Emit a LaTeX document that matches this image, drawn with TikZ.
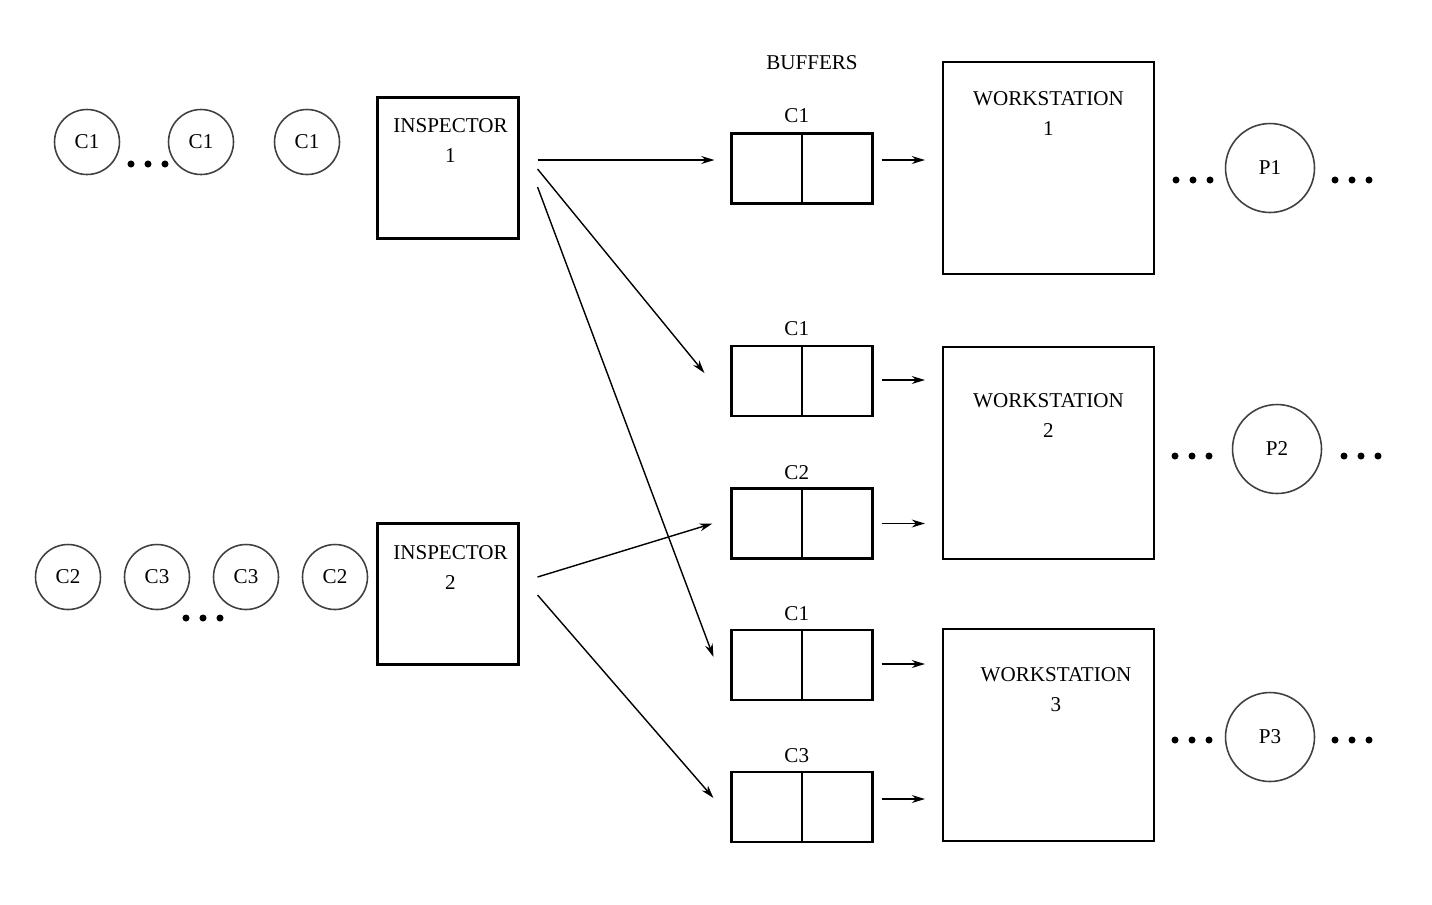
\documentclass[tikz,border=0pt]{standalone}
\usepackage{fontspec}
\setmainfont{Liberation Serif}
\usetikzlibrary{positioning, arrows.meta}

\begin{document}
\begin{tikzpicture}[
    x=0.02cm, y=-0.02cm,
    font=\fontsize{12}{17}\selectfont,
    box/.style={draw, line width=1.2pt, minimum width=2.82cm, minimum height=2.82cm},
    buffer/.style={draw, line width=1.2pt, minimum width=2.82cm, minimum height=1.4cm},
    station/.style={draw, line width=1.2pt, minimum width=4.22cm, minimum height=4.24cm},
    part/.style={circle, draw=black!75, line width=0.9pt, minimum size=1.3cm, inner sep=0pt},
    product/.style={part, minimum size=1.78cm},
    tag/.style={inner sep=0pt, align=center},
    flow/.style={->, >={Stealth[length=7.5pt, width=4.5pt]}, line width=0.8pt},
    feed/.style={flow, shorten <=0.16cm, shorten >=0.34cm}
]
    \useasboundingbox (0,0) rectangle (1432,904);

    % Components waiting
    \node[part] (c11) at (87,142) {C1};
    \node[part] (c12) at (201,142) {C1};
    \node[part] (c13) at (307,142) {C1};

    \node[part] (c21) at (68,577) {C2};
    \node[part] (c31) at (157,577) {C3};
    \node[part] (c32) at (246,577) {C3};
    \node[part] (c22) at (335,577) {C2};

    % Inspectors
    \node[box] (insp1) at (448,168) {};
    \node[tag, below=0.44cm of insp1.north, xshift=0.05cm] {INSPECTOR\\1};
    \node[box] (insp2) at (448,594) {};
    \node[tag, below=0.46cm of insp2.north, xshift=0.05cm] {INSPECTOR\\2};

    % Buffers
    \node at (812,63) {BUFFERS};
    \node[buffer] (b1) at (802,168.5) {};
    \node[buffer] (b2) at (802,381) {};
    \node[buffer] (b3) at (802,523.5) {};
    \node[buffer] (b4) at (802,665) {};
    \node[buffer] (b5) at (802,807) {};
    \node[above=2pt of b1, xshift=-3pt] {C1};
    \node[above=2pt of b2, xshift=-3pt] {C1};
    \node[above=1pt of b3, xshift=-3pt] {C2};
    \node[above=1pt of b4, xshift=-3pt] {C1};
    \node[above=1pt of b5, xshift=-3pt] {C3};
    \foreach \b in {b1,b2,b3,b4,b5}
        \draw[line width=1.2pt] (\b.north) -- (\b.south);

    % Workstations
    \node[station] (ws1) at (1048.5,168) {};
    \node[tag, below=0.6cm of ws1.north] {WORKSTATION\\1};
    \node[station] (ws2) at (1048.5,453) {};
    \node[tag, below=0.94cm of ws2.north] {WORKSTATION\\2};
    \node[station] (ws3) at (1048.5,735) {};
    \node[tag, below=0.78cm of ws3.north, xshift=0.15cm] {WORKSTATION\\3};

    % Products
    \node[product] (p1) at (1270,168) {P1};
    \node[product] (p2) at (1277,449) {P2};
    \node[product] (p3) at (1270,737) {P3};

    % Dots
    \foreach \x/\y in {148/164, 203/618, 1193/180, 1352/180,
                       1192/456, 1361/456, 1192/740, 1352/740}
        \foreach \d in {-17,0,17}
            \fill (\x+\d,\y) circle[radius=2pt];

    % From the inspectors
    \draw[flow] ([shift={(18,-8)}]insp1.east) -- ([shift={(-16,-8.5)}]b1.west);
    \draw[flow] ([shift={(18,1)}]insp1.east) -- ([shift={(-26,-8)}]b2.west);
    \draw[flow] ([shift={(18,19)}]insp1.east) -- ([shift={(-17,-8)}]b4.west);
    \draw[flow] ([shift={(18,-17)}]insp2.east) -- ([shift={(-18,0)}]b3.west);
    \draw[flow] ([shift={(18,1)}]insp2.east) -- ([shift={(-17,-9)}]b5.west);

    % Into the workstations
    \draw[feed] ([yshift=0.17cm]b1.east) -- ([yshift=0.17cm]b1.east -| ws1.west);
    \draw[feed] ([yshift=0.02cm]b2.east) -- ([yshift=0.02cm]b2.east -| ws2.west);
    \draw[feed] (b3.east) -- (b3.east -| ws2.west);
    \draw[feed] ([yshift=0.02cm]b4.east) -- ([yshift=0.02cm]b4.east -| ws3.west);
    \draw[feed] ([yshift=0.16cm]b5.east) -- ([yshift=0.16cm]b5.east -| ws3.west);

\end{tikzpicture}
\end{document}
